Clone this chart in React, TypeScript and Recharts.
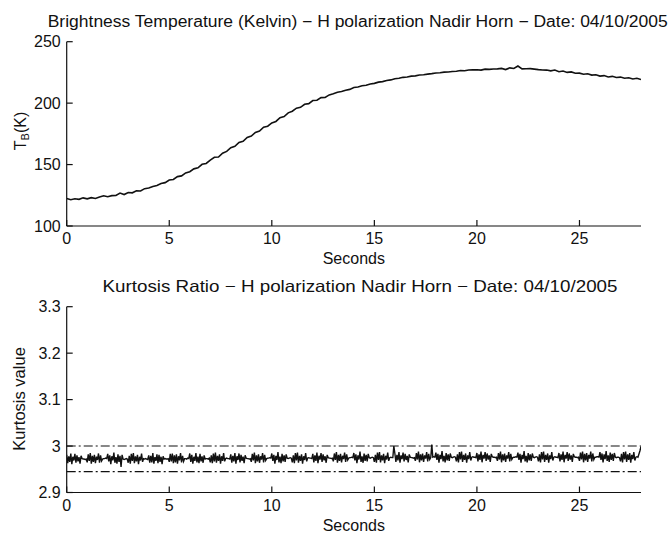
import React from 'react';
import { LineChart, Line, XAxis, YAxis, ReferenceLine } from 'recharts';

const FONT = '"Liberation Sans", Arial, Helvetica, sans-serif';

const topTitle = 'Brightness Temperature (Kelvin) \u2212 H polarization Nadir Horn \u2212 Date: 04/10/2005';
const bottomTitle = 'Kurtosis Ratio \u2212 H polarization Nadir Horn \u2212 Date: 04/10/2005';
const xLabel = 'Seconds';
const bottomYLabel = 'Kurtosis value';

const timeTicks = [0, 5, 10, 15, 20, 25];
const timeDomain = [0, 28];
const tbTicks = [100, 150, 200, 250];
const tbDomain = [100, 250];
const kurtTicks = [2.9, 3, 3.1, 3.2, 3.3];
const kurtDomain = [2.9, 3.3];
const kurtUpperLimit = 3.0;
const kurtLowerLimit = 2.945;

// brightness temperature (K), one sample every 0.2 s
const tbStep = 0.2;
const tbValues = [
  122.3, 121.4, 122.2, 121.7, 122.9,
  122.1, 123.1, 122.4, 123.6, 124.6,
  123.8, 124.7, 124.8, 126.8, 125.6,
  127.3, 127.0, 128.6, 128.5, 130.4,
  130.9, 132.2, 132.9, 134.6, 135.3,
  137.4, 137.9, 140.2, 140.8, 143.2,
  144.2, 146.5, 147.3, 150.2, 150.9,
  153.7, 155.9, 156.1, 159.3, 160.7,
  163.7, 164.9, 168.0, 169.0, 172.1,
  173.2, 176.2, 177.3, 180.4, 181.2,
  183.9, 185.1, 188.2, 189.1, 192.1,
  193.4, 195.9, 196.6, 199.1, 199.6,
  202.1, 202.4, 204.5, 204.6, 206.7,
  207.6, 208.9, 209.5, 210.5, 211.2,
  212.7, 213.1, 214.1, 214.6, 215.6,
  216.1, 217.1, 217.5, 218.4, 218.9,
  219.9, 220.2, 221.0, 221.3, 222.0,
  222.2, 222.9, 223.1, 223.6, 224.0,
  224.5, 224.7, 225.2, 225.4, 225.8,
  226.0, 226.5, 226.3, 227.0, 227.1,
  227.2, 226.9, 227.7, 227.5, 227.8,
  227.9, 228.3, 227.3, 228.7, 228.2,
  230.2, 227.9, 228.0, 228.1, 227.7,
  227.3, 227.0, 226.9, 226.3, 226.9,
  225.6, 226.1, 225.0, 225.4, 224.3,
  224.4, 223.5, 223.9, 222.8, 223.1,
  222.0, 222.4, 221.3, 221.8, 220.9,
  221.2, 220.3, 220.7, 219.6, 220.2,
  219.2,
];

// kurtosis ratio, one sample every 0.05 s (one row per second)
const kurtStep = 0.05;
const kurtValues = [
  2.981, 2.963, 2.978, 2.966, 2.984, 2.961, 2.977, 2.969, 2.983, 2.964, 2.980, 2.967, 2.976, 2.962, 2.979, 2.973, 2.972, 2.972, 2.971, 2.972,
  2.965, 2.982, 2.968, 2.985, 2.962, 2.979, 2.966, 2.981, 2.963, 2.977, 2.970, 2.984, 2.964, 2.980, 2.968, 2.972, 2.973, 2.973, 2.974, 2.973,
  2.983, 2.967, 2.980, 2.961, 2.978, 2.969, 2.986, 2.964, 2.976, 2.962, 2.982, 2.966, 2.979, 2.955, 2.981, 2.972, 2.971, 2.972, 2.973, 2.972,
  2.964, 2.979, 2.962, 2.983, 2.968, 2.985, 2.963, 2.978, 2.967, 2.981, 2.961, 2.977, 2.969, 2.984, 2.966, 2.973, 2.972, 2.973, 2.972, 2.971,
  2.980, 2.964, 2.979, 2.965, 2.985, 2.962, 2.976, 2.968, 2.982, 2.963, 2.981, 2.966, 2.977, 2.961, 2.978, 2.972, 2.973, 2.972, 2.972, 2.973,
  2.966, 2.983, 2.967, 2.984, 2.963, 2.980, 2.965, 2.982, 2.962, 2.978, 2.969, 2.985, 2.965, 2.979, 2.967, 2.973, 2.973, 2.972, 2.974, 2.973,
  2.984, 2.966, 2.981, 2.962, 2.977, 2.968, 2.985, 2.965, 2.977, 2.963, 2.983, 2.967, 2.978, 2.964, 2.980, 2.972, 2.973, 2.973, 2.972, 2.974,
  2.965, 2.980, 2.963, 2.984, 2.967, 2.986, 2.964, 2.979, 2.968, 2.982, 2.962, 2.978, 2.968, 2.985, 2.967, 2.973, 2.974, 2.973, 2.973, 2.972,
  2.982, 2.964, 2.979, 2.967, 2.985, 2.962, 2.978, 2.970, 2.984, 2.965, 2.981, 2.968, 2.977, 2.963, 2.980, 2.974, 2.973, 2.973, 2.972, 2.973,
  2.966, 2.983, 2.969, 2.986, 2.963, 2.980, 2.967, 2.982, 2.964, 2.978, 2.971, 2.985, 2.965, 2.981, 2.969, 2.973, 2.974, 2.974, 2.975, 2.974,
  2.984, 2.968, 2.981, 2.962, 2.979, 2.970, 2.987, 2.965, 2.977, 2.963, 2.983, 2.967, 2.980, 2.966, 2.982, 2.974, 2.973, 2.974, 2.975, 2.974,
  2.965, 2.980, 2.963, 2.985, 2.969, 2.986, 2.964, 2.979, 2.968, 2.982, 2.962, 2.978, 2.970, 2.985, 2.967, 2.974, 2.975, 2.974, 2.974, 2.973,
  2.983, 2.965, 2.980, 2.968, 2.986, 2.963, 2.979, 2.971, 2.985, 2.966, 2.982, 2.969, 2.978, 2.964, 2.981, 2.975, 2.974, 2.974, 2.973, 2.974,
  2.967, 2.984, 2.970, 2.987, 2.964, 2.981, 2.968, 2.983, 2.965, 2.979, 2.972, 2.986, 2.966, 2.982, 2.970, 2.974, 2.975, 2.975, 2.976, 2.975,
  2.985, 2.969, 2.982, 2.963, 2.980, 2.971, 2.988, 2.966, 2.978, 2.964, 2.984, 2.968, 2.981, 2.967, 2.983, 2.975, 2.974, 2.975, 2.976, 2.975,
  2.966, 2.981, 2.964, 2.986, 2.970, 2.987, 2.965, 2.980, 2.969, 2.983, 2.963, 2.979, 2.971, 2.986, 2.968, 2.975, 2.976, 2.975, 2.975, 3.000,
  2.984, 2.966, 2.981, 2.969, 2.987, 2.964, 2.980, 2.972, 2.986, 2.967, 2.983, 2.970, 2.979, 2.965, 2.982, 2.976, 2.975, 2.975, 2.974, 2.975,
  2.968, 2.985, 2.971, 2.988, 2.965, 2.982, 2.969, 2.984, 2.966, 2.980, 2.973, 2.987, 2.967, 2.983, 2.971, 2.975, 3.003, 2.976, 2.977, 2.976,
  2.986, 2.970, 2.983, 2.964, 2.981, 2.972, 2.989, 2.967, 2.979, 2.965, 2.985, 2.969, 2.982, 2.968, 2.984, 2.976, 2.975, 2.976, 2.977, 2.976,
  2.967, 2.982, 2.965, 2.987, 2.971, 2.988, 2.966, 2.981, 2.970, 2.984, 2.964, 2.980, 2.972, 2.987, 2.969, 2.976, 2.977, 2.976, 2.976, 2.975,
  2.985, 2.967, 2.982, 2.970, 2.988, 2.965, 2.981, 2.973, 2.987, 2.968, 2.984, 2.971, 2.980, 2.966, 2.983, 2.977, 2.976, 2.976, 2.975, 2.976,
  2.968, 2.985, 2.971, 2.988, 2.965, 2.982, 2.969, 2.984, 2.966, 2.980, 2.973, 2.987, 2.967, 2.983, 2.971, 2.975, 2.976, 2.976, 2.977, 2.976,
  2.986, 2.970, 2.983, 2.964, 2.981, 2.972, 2.989, 2.967, 2.979, 2.965, 2.985, 2.969, 2.982, 2.968, 2.984, 2.976, 2.975, 2.976, 2.977, 2.976,
  2.967, 2.982, 2.965, 2.987, 2.971, 2.988, 2.966, 2.981, 2.970, 2.984, 2.964, 2.980, 2.972, 2.987, 2.969, 2.976, 2.977, 2.976, 2.976, 2.975,
  2.985, 2.967, 2.982, 2.970, 2.988, 2.965, 2.981, 2.973, 2.987, 2.968, 2.984, 2.971, 2.980, 2.966, 2.983, 2.977, 2.976, 2.976, 2.975, 2.976,
  2.968, 2.986, 2.971, 2.988, 2.965, 2.983, 2.969, 2.985, 2.966, 2.981, 2.973, 2.988, 2.967, 2.984, 2.971, 2.976, 2.976, 2.977, 2.977, 2.976,
  2.987, 2.970, 2.984, 2.965, 2.982, 2.972, 2.989, 2.968, 2.980, 2.966, 2.986, 2.970, 2.983, 2.968, 2.985, 2.976, 2.975, 2.976, 2.976, 2.975,
  2.967, 2.983, 2.965, 2.987, 2.971, 2.988, 2.966, 2.982, 2.970, 2.985, 2.964, 2.981, 2.972, 2.987, 2.969, 2.976, 2.977, 2.976, 2.983, 2.990,
  2.999,
];

const tbData = tbValues.map((v, i) => ({ t: i * tbStep, v }));
const kurtData = kurtValues.map((v, i) => ({ t: i * kurtStep, v }));

const INK = '#111';
const TICK_IN = -6;
const tickStyle = { fill: INK, fontSize: 16, fontFamily: FONT };
const tickLineStyle = { stroke: INK, strokeWidth: 1.2 };
const axisLineStyle = { stroke: INK, strokeWidth: 1.2 };
const noLabel = () => '';

function Panel({ data, yDomain, yTicks, top, height, marginTop, marginBottom, xAxisHeight, children }: any) {
  return (
    <div style={{ position: 'absolute', left: 0, top, width: 671, height }}>
      <LineChart
        width={671}
        height={height}
        data={data}
        margin={{ top: marginTop, right: 30, bottom: marginBottom, left: 0 }}
      >
        <XAxis
          xAxisId="b"
          dataKey="t"
          type="number"
          domain={timeDomain}
          ticks={timeTicks}
          interval={0}
          allowDataOverflow
          height={xAxisHeight}
          tickSize={TICK_IN}
          tickMargin={13}
          tick={tickStyle}
          axisLine={axisLineStyle}
          tickLine={tickLineStyle}
        />
        <XAxis
          xAxisId="t"
          orientation="top"
          dataKey="t"
          type="number"
          domain={timeDomain}
          ticks={timeTicks}
          interval={0}
          allowDataOverflow
          height={0}
          tickSize={TICK_IN}
          tickFormatter={noLabel}
          tick={tickStyle}
          axisLine={axisLineStyle}
          tickLine={tickLineStyle}
        />
        <YAxis
          yAxisId="l"
          type="number"
          domain={yDomain}
          ticks={yTicks}
          interval={0}
          allowDataOverflow
          width={66.7}
          tickSize={TICK_IN}
          tickMargin={12}
          tick={tickStyle}
          axisLine={axisLineStyle}
          tickLine={tickLineStyle}
        />
        <YAxis
          yAxisId="r"
          orientation="right"
          type="number"
          domain={yDomain}
          ticks={yTicks}
          interval={0}
          allowDataOverflow
          width={0}
          tickSize={TICK_IN}
          tickFormatter={noLabel}
          tick={tickStyle}
          axisLine={axisLineStyle}
          tickLine={tickLineStyle}
        />
        {children}
        <Line
          xAxisId="t"
          yAxisId="r"
          dataKey="v"
          stroke="none"
          dot={false}
          activeDot={false}
          isAnimationActive={false}
        />
      </LineChart>
    </div>
  );
}

export default function App() {
  return (
    <div
      style={{
        position: 'absolute',
        left: 0,
        top: 0,
        width: 671,
        height: 533,
        background: '#fff',
        overflow: 'hidden',
        fontFamily: FONT,
      }}
    >
      <Panel
        data={tbData}
        yDomain={tbDomain}
        yTicks={tbTicks}
        top={0}
        height={270}
        marginTop={41.7}
        marginBottom={4}
        xAxisHeight={40}
      >
        <Line
          xAxisId="b"
          yAxisId="l"
          type="linear"
          dataKey="v"
          stroke={INK}
          strokeWidth={1.6}
          dot={false}
          activeDot={false}
          isAnimationActive={false}
        />
      </Panel>
      <Panel
        data={kurtData}
        yDomain={kurtDomain}
        yTicks={kurtTicks}
        top={270}
        height={263}
        marginTop={36.7}
        marginBottom={4.5}
        xAxisHeight={36}
      >
        <ReferenceLine
          xAxisId="b"
          yAxisId="l"
          y={kurtUpperLimit}
          stroke={INK}
          strokeWidth={1.1}
          strokeDasharray="9 3 2 3"
        />
        <ReferenceLine
          xAxisId="b"
          yAxisId="l"
          y={kurtLowerLimit}
          stroke={INK}
          strokeWidth={1.1}
          strokeDasharray="9 3 2 3"
        />
        <Line
          xAxisId="b"
          yAxisId="l"
          type="linear"
          dataKey="v"
          stroke={INK}
          strokeWidth={1.4}
          dot={false}
          activeDot={false}
          isAnimationActive={false}
        />
      </Panel>
      <svg
        width={671}
        height={533}
        style={{ position: 'absolute', left: 0, top: 0, pointerEvents: 'none' }}
        fontFamily={FONT}
        fill={INK}
      >
        <text x={357.7} y={26.7} fontSize={16} textAnchor="middle" textLength={620} lengthAdjust="spacingAndGlyphs">
          {topTitle}
        </text>
        <text x={353.8} y={264} fontSize={16} textAnchor="middle">
          {xLabel}
        </text>
        <text x={26} y={131} fontSize={16} textAnchor="middle" transform="rotate(-90 26 131)">
          T<tspan fontSize={11} dy={3}>B</tspan>
          <tspan dy={-3}>(K)</tspan>
        </text>
        <text x={360} y={292} fontSize={16.5} textAnchor="middle" textLength={515} lengthAdjust="spacingAndGlyphs">
          {bottomTitle}
        </text>
        <text x={353.8} y={530.5} fontSize={16} textAnchor="middle">
          {xLabel}
        </text>
        <text x={25} y={399} fontSize={16.5} textAnchor="middle" transform="rotate(-90 25 399)">
          {bottomYLabel}
        </text>
      </svg>
    </div>
  );
}
